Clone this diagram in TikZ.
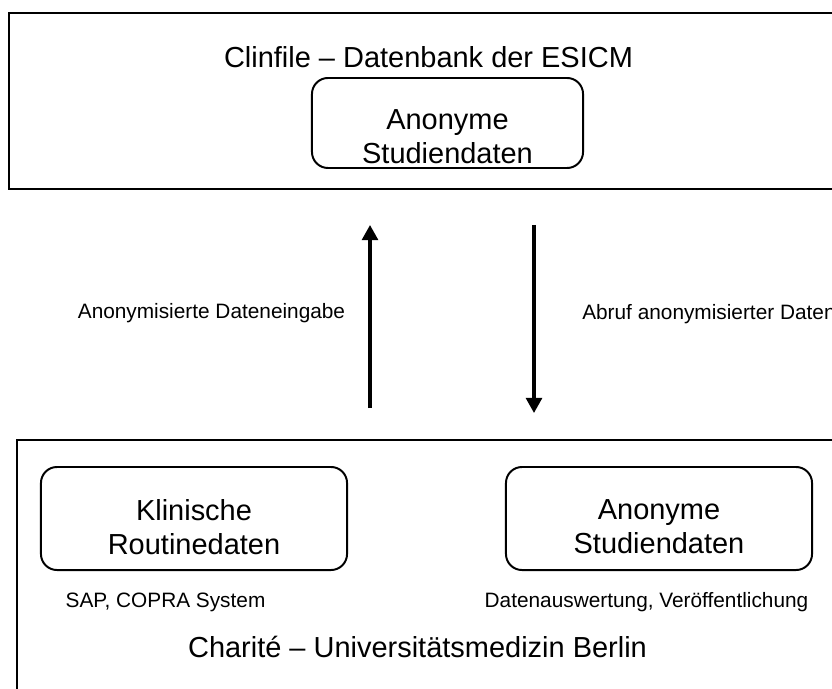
\documentclass[tikz,border=0pt]{standalone}
\usepackage{fontspec}
\setmainfont{Liberation Sans}
\usetikzlibrary{arrows.meta}

\newcommand{\bigfont}{\fontsize{20.6}{24.2}\selectfont}
\newcommand{\smallfont}{\fontsize{14.8}{17}\selectfont}

\tikzset{
	frame/.style={line width=1.4pt},
	databox/.style={draw, line width=1.4pt, rounded corners=0.4cm, inner sep=0pt},
	bigtext/.style={font=\bigfont, inner sep=0pt},
	boxtext/.style={font=\bigfont, align=center, inner sep=0pt},
	smalltext/.style={font=\smallfont, inner sep=0pt},
	flow/.style={line width=2.2pt, -{Triangle[length=0.38cm, width=0.4cm]}}
}

\begin{document}
\begin{tikzpicture}[x=0.025cm, y=-0.025cm]
			\useasboundingbox (0,0) rectangle (832,688);
			
			%%%%% ESICM %%%%%
			\draw[frame] (9,13) rectangle (860,189);
			\node[bigtext, anchor=base] (esicm) at (428.5,68) {Clinfile – Datenbank der ESICM};
			\node[databox, minimum width=6.775cm, minimum height=2.25cm] (topStudy) at (447.5,123) {};
			\node[boxtext] (topStudyText) at (447.5,137) {Anonyme\\Studiendaten};
			
			%%%%% ARROWS %%%%%
			\coordinate (upStart) at (370,408);
			\coordinate (upEnd) at (370,225);
			\coordinate (downStart) at (534,225);
			\coordinate (downEnd) at (534,413);
			\draw[flow] (upStart) -- (upEnd);
			\draw[flow] (downStart) -- (downEnd);
			\node[smalltext, anchor=base] (input) at (211.5,318) {Anonymisierte Dateneingabe};
			\node[smalltext, anchor=base west] (output) at (582,319) {Abruf anonymisierter Daten};
			
			%%%%% CHARITE %%%%%
			\draw[frame] (17,440) rectangle (860,710);
			\node[databox, minimum width=7.65cm, minimum height=2.575cm] (routine) at (194,518.5) {};
			\node[boxtext] (routineText) at (194,527) {Klinische\\Routinedaten};
			\node[databox, minimum width=7.65cm, minimum height=2.575cm] (study) at (659,518.5) {};
			\node[boxtext] (studyText) at (659,527) {Anonyme\\Studiendaten};
			\node[smalltext, anchor=base] (sap) at (165.5,607.5) {SAP, COPRA System};
			\node[smalltext, anchor=base] (eval) at (646.5,607.5) {Datenauswertung, Veröffentlichung};
			\node[bigtext, anchor=base] (charite) at (417.5,657.5) {Charité – Universitätsmedizin Berlin};
			
		\end{tikzpicture}
\end{document}
